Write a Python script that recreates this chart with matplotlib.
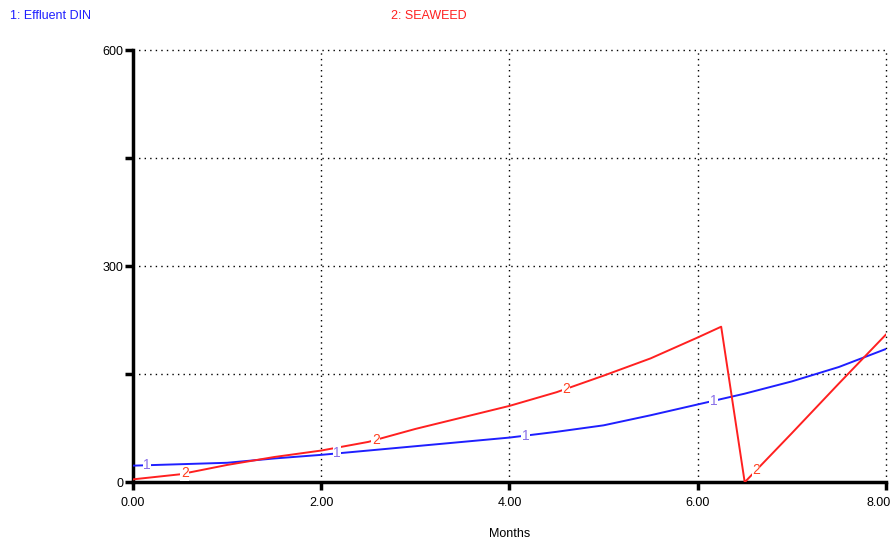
import numpy as np
import matplotlib
matplotlib.use("Agg")
import matplotlib.pyplot as plt
from matplotlib.transforms import ScaledTranslation

plt.rcParams['font.family'] = ['Liberation Sans', 'DejaVu Sans']

# Data
months_din = [0, 0.5, 1, 1.5, 2, 2.5, 3, 3.5, 4, 4.5, 5, 5.5, 6, 6.5, 7, 7.5, 8]
effluent_din = [23, 25, 27, 33, 38, 44, 50, 56, 62, 70, 79, 93, 108, 123, 140, 160, 185]

months_sw = [0, 0.5, 1, 1.5, 2, 2.5, 3, 3.5, 4, 4.5, 5, 5.5, 6, 6.25, 6.5, 7, 7.5, 8]
seaweed = [4, 11, 24, 35, 44, 56, 74, 90, 106, 125, 148, 172, 201, 216, 0, 68, 137, 205]

label_x_din = [0.15, 2.17, 4.17, 6.17]
label_x_sw = [0.55, 2.58, 4.6, 6.62]

x_ticks = [0, 2, 4, 6, 8]
x_ticklabels = ["0.00", "2.00", "4.00", "6.00", "8.00"]
y_ticks = [0, 150, 300, 450, 600]
y_ticklabels = ["0", "", "300", "", "600"]

blue = '#1f1fff'
red = '#ff2020'

fig = plt.figure(figsize=(8.93, 5.40), dpi=100)
ax = fig.add_axes([0.149, 0.107, 0.843, 0.8])

ax.plot(months_din, effluent_din, color=blue, lw=1.4, zorder=3)
ax.plot(months_sw, seaweed, color=red, lw=1.4, zorder=3)

for lx in label_x_din:
    ly = np.interp(lx, months_din, effluent_din)
    ax.text(lx, ly, "1", color='#8a70e8', fontsize=10, ha='center', va='center',
            zorder=4, bbox=dict(facecolor='white', edgecolor='none', pad=0.3))
for lx in label_x_sw:
    ly = np.interp(lx, months_sw, seaweed)
    ax.text(lx, ly, "2", color='#ff4020', fontsize=10, ha='center', va='center',
            zorder=4, bbox=dict(facecolor='white', edgecolor='none', pad=0.3))

ax.set_xlim(0, 8)
ax.set_ylim(0, 600)
ax.set_xticks(x_ticks)
ax.set_xticklabels(x_ticklabels)
ax.set_yticks(y_ticks)
ax.set_yticklabels(y_ticklabels)

ax.grid(True, color='black', linestyle=(0, (1, 3)), linewidth=1.0)
for gl in ax.get_xgridlines() + ax.get_ygridlines():
    gl.set_clip_on(False)

ax.spines['top'].set_visible(False)
ax.spines['right'].set_visible(False)
ax.spines['left'].set_linewidth(2.5)
ax.spines['bottom'].set_linewidth(2.5)
ax.tick_params(axis='both', direction='out', length=6, width=2.5, labelsize=9, colors='black')
ax.tick_params(axis='x', pad=5)
ax.tick_params(axis='y', pad=1)
xl = ax.get_xticklabels()
xl[-1].set_horizontalalignment('right')
xl[-1].set_transform(xl[-1].get_transform() + ScaledTranslation(0.05, 0, fig.dpi_scale_trans))

ax.set_xlabel("Months", fontsize=9, labelpad=13)

fig.text(10 / 893, 1 - 16 / 540, "1: Effluent DIN", color=blue, fontsize=9, ha='left', va='center')
fig.text(429 / 893, 1 - 16 / 540, "2: SEAWEED", color=red, fontsize=9, ha='center', va='center')

fig.savefig("out.png", dpi=100)
